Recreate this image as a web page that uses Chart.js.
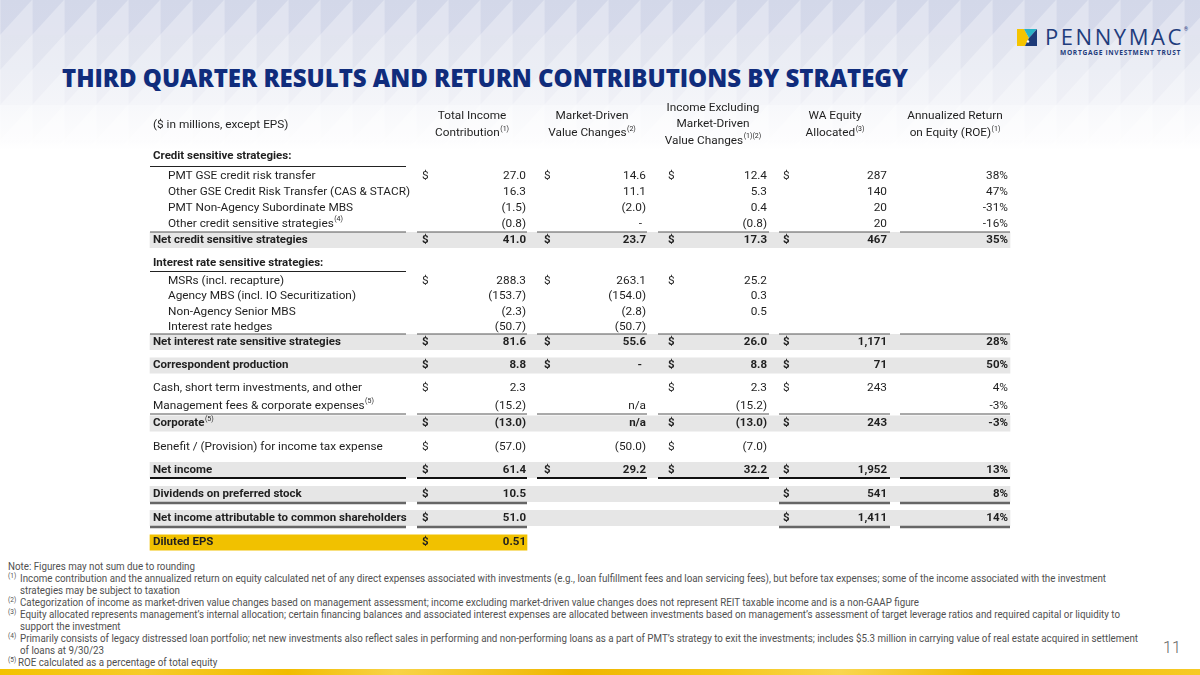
<!DOCTYPE html>
<html><head><meta charset="utf-8">
<script src="https://cdn.jsdelivr.net/npm/chart.js@4.4.0/dist/chart.umd.min.js"></script>
<style>
html,body{margin:0;padding:0;}
body{width:1200px;height:675px;overflow:hidden;position:relative;font-family:Roboto,"Noto Sans",sans-serif;background:#fff;}
#title{position:absolute;left:62px;top:63px;font-family:"Open Sans",sans-serif;font-weight:800;font-size:24px;line-height:30px;color:#102c7c;white-space:nowrap;}
#logoMark{position:absolute;left:1017px;top:29px;}
#logoName{position:absolute;left:1045px;top:22px;font-family:"Open Sans",sans-serif;font-weight:400;font-size:22px;line-height:28px;color:#1f3c7c;white-space:nowrap;}
#logoReg{position:absolute;left:1184px;top:26px;font-size:5px;line-height:6px;color:#1f3c7c;}
#logoSub{position:absolute;left:1060px;top:49px;font-family:"Open Sans",sans-serif;font-weight:700;font-size:6.6px;line-height:8px;color:#1f3c7c;white-space:nowrap;}
#chartBox{position:absolute;left:140px;top:95px;width:880px;height:465px;}
#notes{position:absolute;left:0;top:561px;width:1200px;font-family:Roboto,sans-serif;font-weight:400;font-size:11px;line-height:12px;color:#505050;}
.nl{position:relative;height:12px;white-space:nowrap;}
.ns{position:absolute;left:8px;top:-3px;font-size:6.5px;}
.nt{position:absolute;left:20px;top:0;transform-origin:0 50%;display:inline-block;}
.n0{left:8px;}
#page{position:absolute;left:1163px;top:638px;font-family:Roboto,sans-serif;font-weight:300;font-size:16px;color:#666;}
#stripe{position:absolute;left:0;top:669px;width:1200px;height:6px;background:linear-gradient(to right,#f3c200 0%,#f6cb2a 12%,#f1bc00 24%,#f8d347 33%,#efb600 48%,#f5c719 60%,#f9d650 70%,#f0ba00 82%,#f6ca26 100%);}
</style></head><body>
<div id="title">THIRD QUARTER RESULTS AND RETURN CONTRIBUTIONS BY STRATEGY</div>
<svg id="logoMark" width="20" height="17" viewBox="0 0 20 17">
  <polygon points="0,0 7,0 12,9 8,17 0,17" fill="#f5c400"/>
  <polygon points="7,0 20,0 12,9" fill="#2ab3c6"/>
  <polygon points="20,0 20,17 8,17 12,9" fill="#1d3a78"/>
  <circle cx="11" cy="12.5" r="1.2" fill="#fff"/>
</svg>
<div id="logoName">PENNYMAC</div>
<div id="logoReg">®</div>
<div id="logoSub">MORTGAGE INVESTMENT TRUST</div>
<div id="chartBox"><canvas id="c"></canvas></div>
<div id="notes"></div>
<div id="page">11</div>
<div id="stripe"></div>
<script>
// ---------------- DATA ----------------
const unitsLabel = '($ in millions, except EPS)';
const columnHeaders = [
  ['Total Income', 'Contribution'],
  ['Market-Driven', 'Value Changes'],
  ['Income Excluding', 'Market-Driven', 'Value Changes'],
  ['WA Equity', 'Allocated'],
  ['Annualized Return', 'on Equity (ROE)']
];
const headerSup = ['(1)', '(2)', '(1)(2)', '(3)', '(1)'];

const rowLabels = [
  'Credit sensitive strategies:',
  'PMT GSE credit risk transfer',
  'Other GSE Credit Risk Transfer (CAS & STACR)',
  'PMT Non-Agency Subordinate MBS',
  'Other credit sensitive strategies',
  'Net credit sensitive strategies',
  'Interest rate sensitive strategies:',
  'MSRs (incl. recapture)',
  'Agency MBS (incl. IO Securitization)',
  'Non-Agency Senior MBS',
  'Interest rate hedges',
  'Net interest rate sensitive strategies',
  'Correspondent production',
  'Cash, short term investments, and other',
  'Management fees & corporate expenses',
  'Corporate',
  'Benefit / (Provision) for income tax expense',
  'Net income',
  'Dividends on preferred stock',
  'Net income attributable to common shareholders',
  'Diluted EPS'
];
const labelSup = ['', '', '', '', '(4)', '', '', '', '', '', '', '', '', '', '(5)', '(5)', '', '', '', '', ''];

const totalIncome  = [null, 27.0, 16.3, -1.5, -0.8, 41.0, null, 288.3, -153.7, -2.3, -50.7, 81.6, 8.8, 2.3, -15.2, -13.0, -57.0, 61.4, 10.5, 51.0, 0.51];
const marketDriven = [null, 14.6, 11.1, -2.0, 0, 23.7, null, 263.1, -154.0, -2.8, -50.7, 55.6, 0, null, 'n/a', 'n/a', -50.0, 29.2, null, null, null];
const incomeExcl   = [null, 12.4, 5.3, 0.4, -0.8, 17.3, null, 25.2, 0.3, 0.5, null, 26.0, 8.8, 2.3, -15.2, -13.0, -7.0, 32.2, null, null, null];
const waEquity     = [null, 287, 140, 20, 20, 467, null, null, null, null, null, 1171, 71, 243, null, 243, null, 1952, 541, 1411, null];
const roe          = [null, 38, 47, -31, -16, 35, null, null, null, null, null, 28, 50, 4, -3, -3, null, 13, 8, 14, null];
// which cells carry a "$" sign (columns 1-4)
const dollarMask = ['0000','1111','0000','0000','0000','1111','0000','1110','0000','0000','0000','1111','1111','1011','0000','1011','1010','1111','1001','1001','1000'];
const epsRow = 20;

// ---------------- LAYOUT / STYLE ----------------
const rowY = [156, 176, 192, 208, 224, 240, 263.5, 281, 296.5, 312, 327, 342, 365.5, 388, 406, 423.5, 447, 470, 494, 518, 542.5];
const boldRows = [0, 5, 6, 11, 12, 15, 17, 18, 19, 20];
const indentRows = [1, 2, 3, 4, 7, 8, 9, 10];
const colCenter = [472, 592, 713, 835, 955];
const dollarLeft = [422, 544, 668, 783];
const valueRight = [526, 646, 767, 887, 1008];
const segSpan = [[150, 406], [417, 527], [537, 647], [658, 769], [779, 890], [900, 1010]];
const rules = [
  {y: 166.5, segs: [0], w: 1, c: '#222'},
  {y: 232, segs: [0,1,2,3,4,5], w: 1, c: '#555'},
  {y: 271.5, segs: [0], w: 1, c: '#222'},
  {y: 334, segs: [0,1,2,3,4,5], w: 1, c: '#555'},
  {y: 414, segs: [0,1,2,3,4,5], w: 1, c: '#555'},
  {y: 478, segs: [0,1,2,3,4,5], w: 1.8, c: '#111'},
  {y: 503, segs: [0,1,4,5], w: 2.6, c: '#666'},
  {y: 527, segs: [0,1,4,5], w: 2.6, c: '#666'}
];
const bandRows = [5, 11, 12, 15, 17, 18, 19, 20];
const bandSpan = [[150,1010],[150,1010],[150,1010],[150,1010],[150,1010],[150,1010],[150,1010],[150,527]];
const bandColor = ['#e6e6e6','#e6e6e6','#e6e6e6','#e6e6e6','#e6e6e6','#e6e6e6','#e6e6e6','#f1c100'];
const TEXT = '#1f1f1f';

// ---------------- FORMATTERS ----------------
function fmtMoney(v, dec) {
  if (v === null || v === undefined) return '';
  if (typeof v === 'string') return v;
  if (v === 0) return '-';
  const s = Math.abs(v).toFixed(dec);
  return v < 0 ? '(' + s + ')' : s;
}
function fmtInt(v) { return v === null ? '' : v.toLocaleString('en-US'); }
function fmtPct(v) { return v === null ? '' : v + '%'; }

function cellText(c, r) {
  if (c === 0) return fmtMoney(totalIncome[r], r === epsRow ? 2 : 1);
  if (c === 1) return fmtMoney(marketDriven[r], 1);
  if (c === 2) return fmtMoney(incomeExcl[r], 1);
  if (c === 3) return fmtInt(waEquity[r]);
  return fmtPct(roe[r]);
}

// ---------------- TABLE PLUGIN ----------------
const tablePlugin = {
  id: 'tableText',
  afterDatasetsDraw(chart) {
    const ctx = chart.ctx, sx = chart.scales.x, sy = chart.scales.y;
    const X = v => sx.getPixelForValue(v), Y = v => sy.getPixelForValue(v);
    const font = (b) => b ? 'bold 11.5px Roboto, sans-serif' : '11.8px Roboto, sans-serif';
    const supFont = '7px Roboto, sans-serif';
    ctx.save();
    ctx.textBaseline = 'middle';
    ctx.fillStyle = TEXT;

    function drawLeft(t, sup, x, y, bold) {
      ctx.font = font(bold); ctx.textAlign = 'left';
      ctx.fillText(t, x, y);
      if (sup) {
        const w = ctx.measureText(t).width;
        ctx.font = supFont;
        ctx.fillText(sup, x + w + 0.5, y - 4.5);
      }
    }
    function drawCenter(t, sup, cx, y) {
      ctx.font = font(false);
      const w = ctx.measureText(t).width;
      let ws = 0;
      if (sup) { ctx.font = supFont; ws = ctx.measureText(sup).width + 0.5; }
      drawLeft(t, sup, cx - (w + ws) / 2, y, false);
    }

    // headers
    drawLeft(unitsLabel, '', X(153), Y(125), false);
    columnHeaders.forEach((lines, c) => {
      const ys = lines.length === 3 ? [108, 124.5, 141] : [116.5, 133.5];
      lines.forEach((t, i) => drawCenter(t, i === lines.length - 1 ? headerSup[c] : '', X(colCenter[c]), Y(ys[i])));
    });

    // rows
    rowLabels.forEach((lab, r) => {
      const bold = boldRows.includes(r);
      const y = Y(rowY[r]);
      drawLeft(lab, labelSup[r], X(indentRows.includes(r) ? 168 : 153), y, bold);
      ctx.font = font(bold);
      for (let c = 0; c < 5; c++) {
        const t = cellText(c, r);
        if (t) {
          ctx.textAlign = 'right';
          ctx.fillText(t, X(valueRight[c]) - (t === '-' ? 4 : 0), y);
        }
        if (c < 4 && dollarMask[r][c] === '1') {
          ctx.textAlign = 'left';
          ctx.fillText('$', X(dollarLeft[c]), y);
        }
      }
    });

    // rules
    rules.forEach(rl => {
      ctx.strokeStyle = rl.c; ctx.lineWidth = rl.w;
      rl.segs.forEach(s => {
        ctx.beginPath();
        ctx.moveTo(X(segSpan[s][0]), Y(rl.y));
        ctx.lineTo(X(segSpan[s][1]), Y(rl.y));
        ctx.stroke();
      });
    });
    ctx.restore();
  }
};

new Chart(document.getElementById('c'), {
  type: 'bar',
  data: {
    datasets: [{
      data: bandRows.map((r, i) => ({x: bandSpan[i], y: rowY[r]})),
      backgroundColor: bandColor,
      borderWidth: 0,
      barThickness: 15.5,
      grouped: false
    }]
  },
  options: {
    indexAxis: 'y',
    responsive: true,
    maintainAspectRatio: false,
    animation: false,
    events: [],
    layout: {padding: 0},
    scales: {
      x: {type: 'linear', min: 140, max: 1020, display: false, offset: false},
      y: {type: 'linear', min: 95, max: 560, reverse: true, display: false, offset: false}
    },
    plugins: {legend: {display: false}, tooltip: {enabled: false}}
  },
  plugins: [tablePlugin]
});

// ---------------- FOOTNOTES ----------------
const notes = [
  ['', 'Note: Figures may not sum due to rounding', true],
  ['(1)', 'Income contribution and the annualized return on equity calculated net of any direct expenses associated with investments (e.g., loan fulfillment fees and loan servicing fees), but before tax expenses; some of the income associated with the investment'],
  ['', 'strategies may be subject to taxation'],
  ['(2)', 'Categorization of income as market-driven value changes based on management assessment; income excluding market-driven value changes does not represent REIT taxable income and is a non-GAAP figure'],
  ['(3)', 'Equity allocated represents management\u2019s internal allocation; certain financing balances and associated interest expenses are allocated between investments based on management\u2019s assessment of target leverage ratios and required capital or liquidity to'],
  ['', 'support the investment'],
  ['(4)', 'Primarily consists of legacy distressed loan portfolio; net new investments also reflect sales in performing and non-performing loans as a part of PMT\u2019s strategy to exit the investments; includes $5.3 million in carrying value of real estate acquired in settlement'],
  ['', 'of loans at 9/30/23'],
  ['(5)', 'ROE calculated as a percentage of total equity']
];
const notesEl = document.getElementById('notes');
const spans = [];
notes.forEach(n => {
  const d = document.createElement('div'); d.className = 'nl';
  if (n[0]) { const s = document.createElement('span'); s.className = 'ns'; s.textContent = n[0]; d.appendChild(s); }
  const t = document.createElement('span'); t.className = 'nt' + (n[2] ? ' n0' : ''); t.textContent = n[1];
  if (n[0] === '(5)') t.style.left = '18px';
  d.appendChild(t); notesEl.appendChild(d); spans.push(t);
});
const w1 = spans[1].getBoundingClientRect().width;
const sc = (1106 - 20) / w1;
spans.forEach(s => s.style.transform = 'scaleX(' + sc + ')');

// fit helpers
function fitLetterSpacing(el, target) {
  const w = el.getBoundingClientRect().width;
  el.style.letterSpacing = ((target - w) / el.textContent.length) + 'px';
}
fitLetterSpacing(document.getElementById('title'), 846);
fitLetterSpacing(document.getElementById('logoName'), 139);
fitLetterSpacing(document.getElementById('logoSub'), 121);

// background facets
const tile = "<svg xmlns='http://www.w3.org/2000/svg' width='32' height='35'><polygon points='0,35 32,0 32,35' fill='white' fill-opacity='0.3'/><rect x='0' y='0' width='0.6' height='35' fill='white' fill-opacity='0.3'/></svg>";
document.body.style.backgroundImage = 'url("data:image/svg+xml,' + encodeURIComponent(tile) + '"), linear-gradient(to bottom, #d3d8e9 0px, #d5d9ea 35px, #e1e4ef 35px, #e3e6f0 70px, #eceef5 70px, #eff0f6 105px, #f7f8fb 105px, #fcfcfd 140px, #ffffff 150px)';
document.body.style.backgroundRepeat = 'repeat, no-repeat';
document.body.style.backgroundSize = '32px 35px, 1200px 675px';
</script>
</body></html>
